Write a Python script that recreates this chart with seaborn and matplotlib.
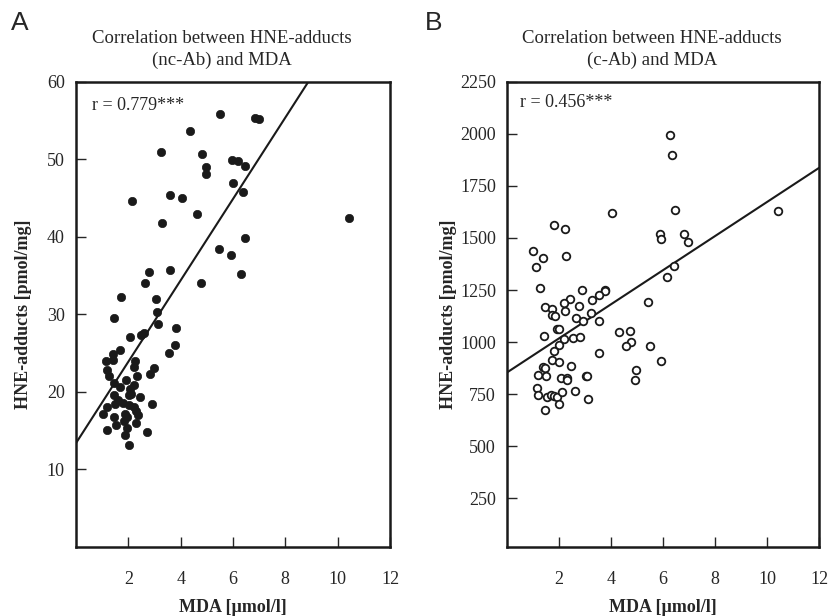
import numpy as np
import pandas as pd
import seaborn as sns
import matplotlib.pyplot as plt

# Painel A - HNE-adducts (nc-Ab) x MDA
mda_a = [5.51, 6.85, 6.99, 4.36, 3.26, 4.80, 5.96, 6.21, 6.46, 4.97, 4.96, 5.99, 6.40,
         2.14, 3.58, 4.06, 4.62, 3.29, 10.43, 6.47, 5.45, 5.91, 2.78, 3.58, 6.31,
         2.65, 4.77, 1.73, 3.06, 3.10, 1.44, 3.15, 3.81, 2.05, 2.49, 2.59, 3.78, 3.54,
         1.69, 1.40, 1.41, 1.13, 2.27, 2.23, 2.97, 2.81, 1.20, 1.28, 2.33, 1.47, 1.69,
         2.20, 2.05, 1.44, 2.04, 2.46, 1.18, 1.50, 1.78, 2.01, 2.20, 2.92, 1.05, 1.88,
         2.29, 1.46, 1.95, 1.83, 1.53, 2.31, 1.18, 1.95, 2.70, 1.88, 2.03,
         1.62, 2.12, 1.92, 2.38]
hne_a = [55.9, 55.4, 55.2, 53.7, 50.9, 50.7, 49.9, 49.8, 49.1, 49.0, 48.1, 46.9, 45.8,
         44.6, 45.4, 45.0, 43.0, 41.8, 42.5, 39.9, 38.5, 37.7, 35.5, 35.8, 35.2,
         34.1, 34.0, 32.3, 32.0, 30.3, 29.6, 28.8, 28.3, 27.1, 27.3, 27.6, 26.1, 25.0,
         25.4, 24.9, 24.1, 24.0, 24.0, 23.2, 23.1, 22.3, 22.8, 22.0, 22.1, 21.2, 20.6,
         20.9, 20.4, 19.6, 19.6, 19.4, 18.1, 18.5, 18.6, 18.3, 18.0, 18.5, 17.2, 17.2,
         17.5, 16.8, 16.8, 16.2, 15.7, 16.0, 15.1, 15.3, 14.9, 14.5, 13.2,
         19.0, 19.8, 21.5, 17.0]

# Painel B - HNE-adducts (c-Ab) x MDA
mda_b = [6.28, 6.36, 4.03, 6.45, 10.41, 1.82, 2.24, 5.87, 5.92, 6.82, 6.95, 1.01, 1.37,
         1.12, 2.28, 6.44, 6.17,
         1.27, 2.90, 3.75, 3.77, 5.41, 2.44, 2.19, 3.27, 3.54, 2.77, 1.44, 1.72, 1.72,
         1.83, 2.22, 3.23, 2.67, 2.94, 3.54, 1.92, 2.01, 4.32, 4.73, 1.42, 2.55, 2.80,
         2.19, 4.78, 4.59, 5.49, 1.99, 1.82, 3.55, 1.73, 2.01, 5.94, 2.46, 1.37, 1.46,
         1.19, 1.50, 4.95, 4.93, 2.06, 2.29, 2.32, 3.05, 3.09, 1.17, 1.19, 1.53, 1.69,
         1.82, 1.91, 2.13, 2.01, 2.63, 3.13, 1.46]
hne_b = [1995, 1901, 1620, 1636, 1628, 1563, 1545, 1519, 1495, 1519, 1479, 1436, 1402,
         1361, 1413, 1364, 1311,
         1261, 1252, 1250, 1245, 1194, 1207, 1186, 1200, 1226, 1175, 1170, 1160, 1130,
         1127, 1148, 1138, 1117, 1100, 1103, 1061, 1063, 1050, 1052, 1027, 1019, 1024,
         1013, 1002, 979, 979, 986, 955, 947, 913, 902, 907, 886, 881, 874,
         843, 838, 864, 819, 827, 825, 819, 835, 838, 779, 745, 736, 745,
         742, 737, 761, 702, 763, 725, 675]

# retas de regressao (intercepto, inclinacao)
reta_a = (13.4, 5.25)
reta_b = (854, 81.9)

df_a = pd.DataFrame({'mda': mda_a, 'hne': hne_a})
df_b = pd.DataFrame({'mda': mda_b, 'hne': hne_b})

sns.set_style('ticks')
plt.rcParams['font.family'] = ['Liberation Serif', 'DejaVu Serif']

fig = plt.figure(figsize=(8.34, 6.16), dpi=100)
ax1 = fig.add_axes([0.0911, 0.112, 0.3765, 0.755])
ax2 = fig.add_axes([0.608, 0.112, 0.374, 0.755])

sns.scatterplot(data=df_a, x='mda', y='hne', ax=ax1, color='#1a1a1a', s=36,
                edgecolor='#1a1a1a', linewidth=0.5, legend=False, zorder=3)
sns.scatterplot(data=df_b, x='mda', y='hne', ax=ax2, facecolor='white', s=30,
                edgecolor='#1a1a1a', linewidth=1.3, legend=False, zorder=3)

ax1.axline((0, reta_a[0]), slope=reta_a[1], color='#1a1a1a', lw=1.5)
ax2.axline((0, reta_b[0]), slope=reta_b[1], color='#1a1a1a', lw=1.5)

ax1.set_xlim(0, 12)
ax1.set_ylim(0, 60)
ax2.set_xlim(0, 12)
ax2.set_ylim(15, 2250)

ax1.set_yticks([10, 20, 30, 40, 50, 60])
ax2.set_yticks([250, 500, 750, 1000, 1250, 1500, 1750, 2000, 2250])
for ax in (ax1, ax2):
    ax.set_xticks([2, 4, 6, 8, 10, 12])
    ax.tick_params(axis='x', direction='in', length=7, width=1, pad=17,
                   labelsize=13, top=False)
    ax.tick_params(axis='y', direction='in', length=7, width=1, pad=8,
                   labelsize=13, right=False)
    for sp in ax.spines.values():
        sp.set_visible(True)
        sp.set_linewidth(1.8)
        sp.set_color('#1a1a1a')
    ax.set_xlabel('MDA [µmol/l]', fontsize=13, fontweight='bold', labelpad=8)

ax1.set_ylabel('HNE-adducts [pmol/mg]', fontsize=13, fontweight='bold', labelpad=11)
ax2.set_ylabel('HNE-adducts [pmol/mg]', fontsize=13, fontweight='bold', labelpad=2)

ax1.set_title('Correlation between HNE-adducts\n(nc-Ab) and MDA', fontsize=13.5,
              x=0.465, pad=12, linespacing=1.4)
ax2.set_title('Correlation between HNE-adducts\n(c-Ab) and MDA', fontsize=13.5,
              x=0.465, pad=12, linespacing=1.4)

ax1.text(0.05, 0.95, 'r = 0.779***', transform=ax1.transAxes, fontsize=13,
         va='center', ha='left')
ax2.text(0.04, 0.955, 'r = 0.456***', transform=ax2.transAxes, fontsize=13,
         va='center', ha='left')

fig.text(0.013, 0.962, 'A', fontsize=19, family='Liberation Sans', va='center')
fig.text(0.509, 0.962, 'B', fontsize=19, family='Liberation Sans', va='center')

plt.savefig('out.png', dpi=100)
